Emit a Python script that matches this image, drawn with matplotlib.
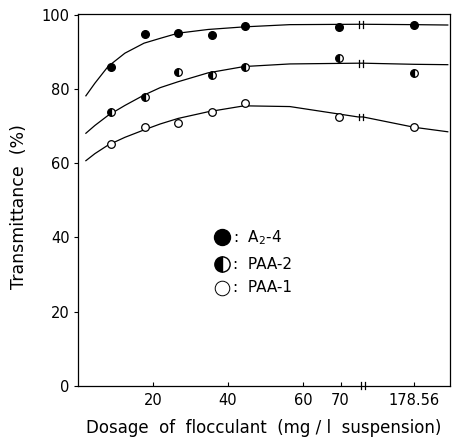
import matplotlib.pyplot as plt
import numpy as np

# measured doses (mg/l) and transmittance (%)
dose = [8.93, 17.86, 26.79, 35.71, 44.64, 69.6, 178.56]
a2_4 = [86.1, 94.8, 95.1, 94.7, 97.1, 96.8, 97.3]
paa_2 = [73.7, 77.8, 84.5, 83.7, 86.1, 88.3, 84.4]
paa_1 = [65.1, 69.7, 70.9, 73.8, 76.3, 72.4, 69.8]

# hand-drawn fit curves
curve_x = [2.1, 4.5, 8.0, 12.5, 17.6, 21.9, 26.7, 34.7, 44.3, 56.5, 74.7, 110, 178.56, 223]
curve_a2_4 = [78.2, 81.6, 86.1, 89.7, 92.4, 93.7, 95.1, 96.1, 96.8, 97.4, 97.5, 97.5, 97.4, 97.3]
curve_paa_2 = [68.1, 70.2, 72.9, 75.6, 78.4, 80.4, 82.0, 84.4, 86.1, 86.8, 87.0, 87.0, 86.7, 86.6]
curve_paa_1 = [60.7, 62.6, 64.9, 67.0, 69.0, 70.6, 72.1, 73.9, 75.5, 75.3, 72.5, 72.5, 69.7, 68.5]

x_ticks = [20, 40, 60, 70, 178.56]
x_tick_labels = ["20", "40", "60", "70", "178.56"]
y_ticks = [0, 20, 40, 60, 80, 100]

BREAK = 76.0


def to_axis(x):
    # broken axis: linear up to BREAK, compressed beyond it
    x = np.asarray(x, dtype=float)
    return np.where(x <= BREAK, x, BREAK + (x - 110.0) * 0.2)


fig = plt.figure(figsize=(4.53, 4.42), dpi=100)
ax = fig.add_axes([0.1722, 0.1274, 0.8212, 0.842])
plt.rcParams["font.family"] = ["DejaVu Sans"]

for cy in (curve_a2_4, curve_paa_2, curve_paa_1):
    ax.plot(to_axis(curve_x), cy, color="black", lw=0.9)
    yb = np.interp(BREAK, to_axis(curve_x), cy)
    for xb in (BREAK - 1.0, BREAK + 0.1):
        ax.plot([xb, xb], [yb - 0.9, yb + 0.9], color="black", lw=0.9)

ms = 5.5
ax.plot(to_axis(dose), a2_4, "o", color="black", ms=ms)
ax.plot(to_axis(dose), paa_2, "o", ms=ms, mec="black", mfc="black",
        fillstyle="left", markerfacecoloralt="white", mew=0.9)
ax.plot(to_axis(dose), paa_1, "o", ms=ms, mec="black", mfc="white", mew=0.9)

# legend drawn inside the plot
leg_x = 38.3
leg_y = [40.0, 32.8, 26.4]
ax.plot(leg_x, leg_y[0], "o", color="black", ms=11.5)
ax.plot(leg_x, leg_y[1], "o", ms=11, mec="black", mfc="black",
        fillstyle="left", markerfacecoloralt="white", mew=1.0)
ax.plot(leg_x, leg_y[2], "o", ms=10.5, mec="black", mfc="white", mew=0.7)
for y, label in zip(leg_y, [":  A$_2$-4", ":  PAA-2", ":  PAA-1"]):
    ax.text(leg_x + 3.0, y, label, ha="left", va="center", fontsize=11)

# break marks on the x axis
for xb in (BREAK - 0.6, BREAK + 0.5):
    ax.plot([xb, xb], [-0.9, 0.9], color="black", lw=0.9, clip_on=False)

ax.set_xlim(0, 99.2)
ax.set_ylim(0, 100.4)
ax.set_xticks(to_axis(x_ticks))
ax.set_xticklabels(x_tick_labels)
ax.set_yticks(y_ticks)
ax.tick_params(axis="x", direction="in", length=3, width=0.8, labelsize=10.5, pad=5)
ax.tick_params(axis="y", direction="out", length=3, width=0.8, labelsize=10.5, pad=3)
for s in ax.spines.values():
    s.set_linewidth(0.9)

ax.set_xlabel("Dosage  of  flocculant  (mg / l  suspension)", fontsize=12, labelpad=8)
ax.set_ylabel("Transmittance  (%)", fontsize=12.5, labelpad=10)
ax.yaxis.set_label_coords(-0.135, 0.48)

fig.savefig("out.png", dpi=100)
